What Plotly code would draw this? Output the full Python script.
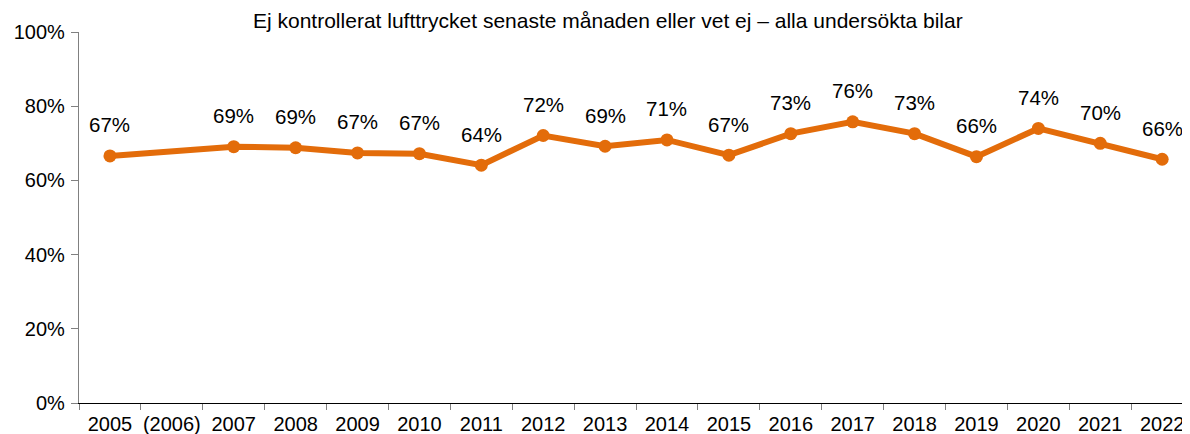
import plotly.graph_objects as go

categories = ["2005", "(2006)", "2007", "2008", "2009", "2010", "2011", "2012", "2013",
              "2014", "2015", "2016", "2017", "2018", "2019", "2020", "2021", "2022"]
values = [66.6, None, 69.1, 68.8, 67.4, 67.2, 64.1, 72.1, 69.2,
          70.9, 66.8, 72.6, 75.8, 72.6, 66.4, 74.0, 70.0, 65.7]
labels = ["67%", "", "69%", "69%", "67%", "67%", "64%", "72%", "69%",
          "71%", "67%", "73%", "76%", "73%", "66%", "74%", "70%", "66%"]
title_text = "Ej kontrollerat lufttrycket senaste månaden eller vet ej – alla undersökta bilar"
y_ticks = [0, 20, 40, 60, 80, 100]
y_ticklabels = ["0%", "20%", "40%", "60%", "80%", "100%"]

ORANGE = "#E36C0A"
FONT = "Liberation Sans, Arial, sans-serif"

fig = go.Figure()
fig.add_trace(go.Scatter(
    x=list(range(len(categories))), y=values, mode="lines+markers", connectgaps=True,
    line=dict(color=ORANGE, width=6),
    marker=dict(color=ORANGE, size=13),
    hoverinfo="skip",
))

for i, (v, t) in enumerate(zip(values, labels)):
    if v is None:
        continue
    fig.add_annotation(x=i, y=v, xref="x", yref="y", text=t, showarrow=False, yshift=31,
                       font=dict(family=FONT, size=20.5, color="#000000"))

fig.add_annotation(x=0.476, xref="paper", y=1.0, yref="paper", yshift=12, yanchor="middle",
                   text=title_text, showarrow=False,
                   font=dict(family=FONT, size=21, color="#000000"))

# page body has an 8px margin: shrink figure so it ends at the window edge
fig.update_layout(
    width=1182, height=426,
    margin=dict(l=71, r=0, t=24, b=31, autoexpand=False),
    paper_bgcolor="white", plot_bgcolor="white",
    showlegend=False,
    font=dict(family=FONT, size=20, color="#000000"),
)
fig.update_xaxes(
    range=[-0.5, 17.45],
    tickmode="array", tickvals=list(range(len(categories))), ticktext=categories,
    tickangle=0, automargin=False, ticklabelstandoff=3,
    showline=True, linecolor="#000000", linewidth=1.3,
    ticks="", showgrid=False, zeroline=False,
    tickfont=dict(family=FONT, size=20, color="#000000"),
)
fig.update_xaxes(minor=dict(tickmode="array", tickvals=[i + 0.5 for i in range(-1, len(categories))],
                            ticks="outside", ticklen=6, tickcolor="#808080", tickwidth=1.3,
                            showgrid=False))
fig.update_yaxes(
    range=[0, 100], tickvals=y_ticks, ticktext=y_ticklabels, automargin=False,
    showline=True, linecolor="#808080", linewidth=1.3,
    ticks="outside", ticklen=7, tickcolor="#808080", tickwidth=1.3,
    ticklabelstandoff=2,
    showgrid=False, zeroline=False,
    tickfont=dict(family=FONT, size=20, color="#000000"),
)

fig.write_html("out.html")
